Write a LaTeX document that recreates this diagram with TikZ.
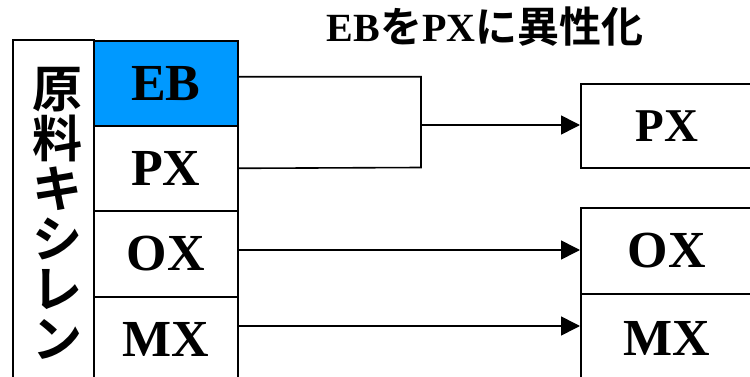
\documentclass[tikz,border=0pt]{standalone}
\usepackage{fontspec}
\setmainfont{Liberation Serif}
\newfontfamily\jp{Noto Sans CJK JP}[UprightFont={* Bold}]
\usetikzlibrary{arrows.meta}
\definecolor{ebblue}{RGB}{0,153,255}
\newcommand{\lat}[2]{{\fontsize{#1}{#1}\selectfont\bfseries #2}}
\newcommand{\jpt}[1]{{\jp\fontsize{42}{42}\selectfont #1}}
\begin{document}
\begin{tikzpicture}[x=1pt,y=-1pt,
  cell/.style={draw, line width=1.6pt, inner sep=0pt, anchor=north west, font=\fontsize{52}{52}\selectfont\bfseries},
  conn/.style={line width=1.6pt},
  arr/.style={line width=1.6pt, -{Triangle[length=19pt,width=19pt]}}]
\clip (0,0) rectangle (750,377);
\fill[white] (0,0) rectangle (750,377);
% left column
\node[cell, minimum width=81pt, minimum height=380pt] (src) at (12,39) {};
\node[inner sep=0pt, align=center, font=\jp\fontsize{50}{50}\selectfont] (srctxt) at (57,213) {原\\料\\キ\\シ\\レ\\ン};
\node[cell, fill=ebblue, minimum width=144pt, minimum height=85pt] (eb) at (93,40) {EB};
\node[cell, minimum width=144pt, minimum height=85pt] (px) at (93,125) {PX};
\node[cell, minimum width=144pt, minimum height=86pt] (ox) at (93,210) {OX};
\node[cell, minimum width=144pt, minimum height=86pt] (mx) at (93,296) {MX};
% right column
\node[cell, minimum width=172pt, minimum height=84pt, font=\fontsize{47}{47}\selectfont\bfseries] (pxr) at (580,83) {PX};
\node[cell, minimum width=172pt, minimum height=86pt] (oxr) at (580,207) {OX};
\node[cell, minimum width=172pt, minimum height=90pt] (mxr) at (580,293) {MX};
% title
\node[anchor=base, inner sep=0pt] (title) at (485,43) {\raisebox{1pt}{\lat{40}{EB}}\jpt{を}\raisebox{1pt}{\lat{40}{PX}}\jpt{に異性化}};
% connectors
\coordinate (jb) at (421,167.5);
\coordinate (jm) at (421,125);
\coordinate (oxa) at (0,250);
\coordinate (mxa) at (0,326);
\draw[conn] ([yshift=6.5pt]eb.east) -| (jb) -- (px.east);
\draw[arr] (jm) -- (pxr.west |- jm);
\draw[arr] (ox.east |- oxa) -- (oxr.west |- oxa);
\draw[arr] (mx.east |- mxa) -- (mxr.west |- mxa);
\end{tikzpicture}
\end{document}
